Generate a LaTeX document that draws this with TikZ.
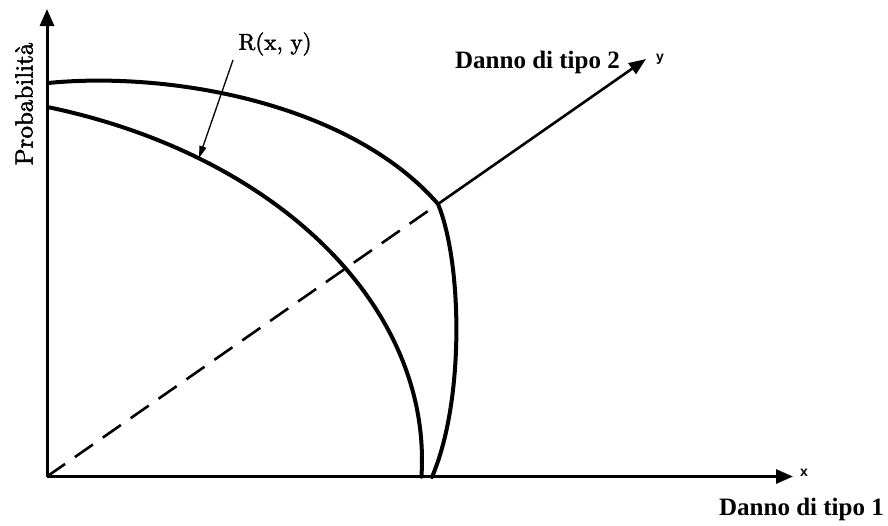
\documentclass[tikz,border=0pt]{standalone}
\usepackage{fontspec}
\newfontfamily\tnr{Liberation Serif}
\newfontfamily\lsans{Liberation Sans}
\newfontfamily\lmheavy[FakeBold=2]{lmroman10-regular.otf}
\usetikzlibrary{arrows.meta}
\begin{document}
\begin{tikzpicture}[x=1pt,y=-1pt,
  axis/.style={line width=3pt,-{Triangle[length=17pt,width=14pt]}},
  curve/.style={line width=4pt,line cap=round,line join=round},
  dashline/.style={line width=2.6pt,dash pattern=on 22pt off 12pt},
  thinarrow/.style={line width=1.3pt,-{Triangle[length=12pt,width=7pt]}},
  tlabel/.style={font=\tnr\bfseries\fontsize{25}{25}\selectfont,inner sep=0pt},
  small/.style={font=\lsans\bfseries\fontsize{14}{14}\selectfont,inner sep=0pt}]
\useasboundingbox (0,0) rectangle (888,525);
\coordinate (O) at (47,476.5);
\coordinate (Ytop) at (47,9);
\coordinate (Xend) at (793,476.5);
\coordinate (P) at (438,204);
\coordinate (Yend) at (646,59);
\coordinate (Rs) at (233,60);
\coordinate (Rt) at (199,158);
% axes
\draw[axis] (O) -- (Ytop);
\draw[axis] (O) -- (Xend);
% dashed diagonal and its solid continuation
\draw[dashline] (O) -- (P);
\draw[line width=2.6pt,-{Triangle[length=17pt,width=13pt]}] (P) -- (Yend);
% outer curve
\draw[curve] (48,83) .. controls (170,71) and (350,103) .. (P)
  .. controls (462,262) and (465,400) .. (432,477);
% inner curve (elliptic arc)
\draw[curve] plot[domain=73.5:-2.6,samples=80,smooth] ({-100+522*cos(\x)},{460-368*sin(\x)});
% labels
\node[font=\lmheavy\fontsize{23}{23}\selectfont,inner sep=0pt] (R) at (275,44) {R(x, y)};
\draw[thinarrow] (Rs) -- (Rt);
\node[tlabel,anchor=east] (L2) at (620,62) {Danno di tipo 2};
\node[small] (ly) at (660,59) {y};
\node[small] (lx) at (804,473) {x};
\node[tlabel,anchor=east] (L1) at (884,509) {Danno di tipo 1};
\node[rotate=90,font=\lmheavy\fontsize{25}{25}\selectfont,inner sep=0pt] (Pr) at (24,104) {Probabilità};
\end{tikzpicture}
\end{document}
